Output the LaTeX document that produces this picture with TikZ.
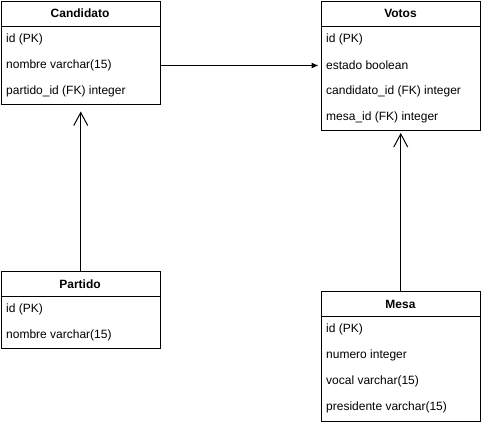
\documentclass[tikz,border=0pt]{standalone}
\usepackage{fontspec}
\setmainfont{Liberation Sans}
\usetikzlibrary{arrows.meta}
\begin{document}
\begin{tikzpicture}[x=1pt,y=-1pt,
  tbl/.style={draw=black,line width=1pt,anchor=north west,inner sep=0pt},
  ttl/.style={font=\fontsize{12}{14}\selectfont\bfseries,inner sep=0pt},
  row/.style={font=\fontsize{12}{14}\selectfont,anchor=west,inner sep=0pt},
  fillarrow/.style={line width=1pt,-{Latex[length=7pt,width=6pt]},shorten >=2pt},
  openarrow/.style={line width=1pt,-{Straight Barb[length=13pt,width=14pt]}}]
\useasboundingbox (0,0) rectangle (481,424);
% Candidato
\node[tbl,minimum width=159.5pt,minimum height=103.5pt] (cand) at (0.5,0.5) {};
\draw[line width=1pt] (cand.west |- 0,26) -- (cand.east |- 0,26);
\node[ttl] (candt) at (80,13.5) {Candidato};
\node[row] (c1) at (6,39.5) {id (PK)};
\node[row] (c2) at (6,65.5) {nombre varchar(15)};
\node[row] (c3) at (6,91.5) {partido\_id (FK) integer};
% Votos
\node[tbl,minimum width=159.5pt,minimum height=129pt] (votos) at (320.5,0.5) {};
\draw[line width=1pt] (votos.west |- 0,26) -- (votos.east |- 0,26);
\node[ttl] (votost) at (400.5,13.5) {Votos};
\node[row] (v1) at (326,39.5) {id (PK)};
\node[row] (v2) at (326,65.5) {estado boolean};
\node[row] (v3) at (326,91.5) {candidato\_id (FK) integer};
\node[row] (v4) at (326,117.5) {mesa\_id (FK) integer};
% Partido
\node[tbl,minimum width=159.5pt,minimum height=77pt] (part) at (0.5,271) {};
\draw[line width=1pt] (part.west |- 0,296) -- (part.east |- 0,296);
\node[ttl] (partt) at (80,284) {Partido};
\node[row] (p1) at (6,309.5) {id (PK)};
\node[row] (p2) at (6,335.5) {nombre varchar(15)};
% Mesa
\node[tbl,minimum width=159.5pt,minimum height=130pt] (mesa) at (320.5,291) {};
\draw[line width=1pt] (mesa.west |- 0,316) -- (mesa.east |- 0,316);
\node[ttl] (mesat) at (400.5,304) {Mesa};
\node[row] (m1) at (326,329.5) {id (PK)};
\node[row] (m2) at (326,355.5) {numero integer};
\node[row] (m3) at (326,381.5) {vocal varchar(15)};
\node[row] (m4) at (326,407.5) {presidente varchar(15)};
% connectors
\draw[fillarrow] (cand.east |- c2.center) -- (votos.west |- c2.center);
\draw[openarrow,shorten >=6.5pt] (part.north) -- (cand.south);
\draw[openarrow,shorten >=2.5pt] (mesa.north) -- (votos.south);
\end{tikzpicture}
\end{document}
